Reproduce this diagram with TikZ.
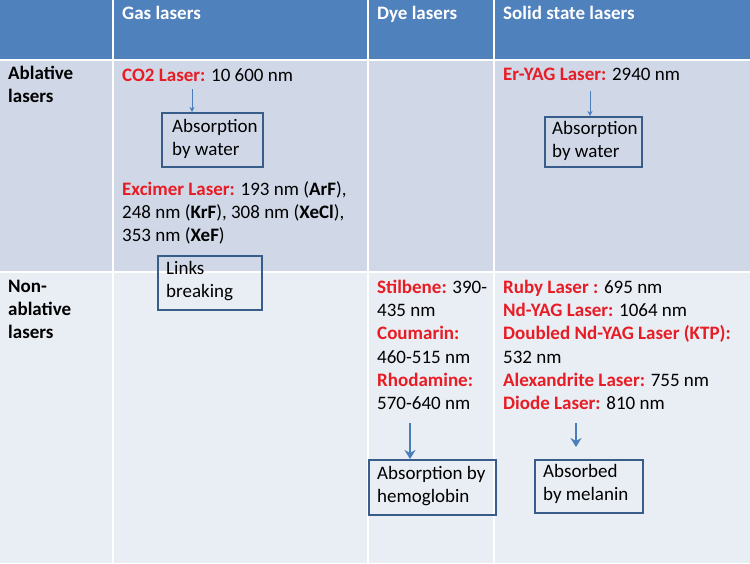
\documentclass[tikz,border=0pt]{standalone}
\usepackage{fontspec}
\setmainfont{Carlito}
\usetikzlibrary{arrows.meta}
\definecolor{headblue}{RGB}{79,129,189}
\definecolor{rowone}{RGB}{208,216,232}
\definecolor{rowtwo}{RGB}{233,237,244}
\definecolor{boxblue}{RGB}{56,93,138}
\definecolor{arrblue}{RGB}{74,126,187}
\definecolor{lasred}{RGB}{232,28,36}
\newcommand{\lname}[1]{\textcolor{lasred}{\textbf{#1}}}

\begin{document}
\begin{tikzpicture}[x=1pt,y=-1pt,font=\fontsize{19}{23.2}\selectfont]
\tikzstyle{cell}=[anchor=north west,inner sep=0pt,align=left]
\tikzstyle{head}=[cell,text=white,font=\fontsize{19}{23.2}\selectfont\bfseries]
\tikzstyle{result}=[draw=boxblue,line width=1.6pt,anchor=north west,inner sep=0pt]
\tikzstyle{thin}=[draw=arrblue,-{Stealth[length=5pt,width=5pt]},line width=0.6pt]
\tikzstyle{thick}=[draw=arrblue,-{Stealth[length=9pt,width=11pt]},line width=2.6pt]

% table background
\useasboundingbox (0,0) rectangle (750,563);
\fill[headblue] (0,0) rectangle (750,60);
\fill[rowone] (0,60) rectangle (750,272);
\fill[rowtwo] (0,272) rectangle (750,563);
\draw[white,line width=2pt] (0,60) -- (750,60);
\draw[white,line width=2pt] (0,272) -- (750,272);
\foreach \x in {113,368,494}
  \draw[white,line width=2.5pt] (\x,0) -- (\x,563);

% headers
\node[head] (hgas) at (122,6) {Gas lasers};
\node[head] (hdye) at (377,6) {Dye lasers};
\node[head] (hsol) at (503,6) {Solid state lasers};
\node[head,text=black] (abl) at (8,66) {Ablative\\lasers};
\node[head,text=black] (nonabl) at (8,280) {Non-\\ablative\\lasers};

% gas lasers
\node[cell] (co2) at (122,68) {\lname{CO2 Laser:} 10 600 nm};
\node[result,minimum width=101pt,minimum height=54pt] (water1) at (161,112) {};
\node[cell] at (172,119) {Absorption\\by water};
\draw[thin] (192,89) -- (water1.north -| 192,0);
\node[cell] (exc) at (122,181) {\lname{Excimer Laser:} 193 nm (\textbf{ArF}),\\
  248 nm (\textbf{KrF}), 308 nm (\textbf{XeCl}),\\353 nm (\textbf{XeF})};
\node[result,minimum width=104pt,minimum height=54pt] (links) at (157,255) {};
\node[cell] at (166,261) {Links\\breaking};

% dye lasers
\node[cell] (dye) at (377,280) {\lname{Stilbene:} 390-\\435 nm\\\lname{Coumarin:}\\
  460-515 nm\\\lname{Rhodamine:}\\570-640 nm};
\node[result,minimum width=127pt,minimum height=55pt] (hemo) at (368,459) {};
\node[cell] at (377,466) {Absorption by\\hemoglobin};
\draw[thick] (410,423) -- (hemo.north -| 410,0);

% solid state lasers
\node[cell] (eryag) at (503,68) {\lname{Er-YAG Laser:} 2940 nm};
\node[result,minimum width=97pt,minimum height=50pt] (water2) at (544,116) {};
\node[cell] at (552,121) {Absorption\\by water};
\draw[thin] (590,91) -- (water2.north -| 590,0);
\node[cell] (solid) at (503,280) {\lname{Ruby Laser :} 695 nm\\\lname{Nd-YAG Laser:} 1064 nm\\
  \lname{Doubled Nd-YAG Laser (KTP):}\\532 nm\\\lname{Alexandrite Laser:} 755 nm\\
  \lname{Diode Laser:} 810 nm};
\node[result,minimum width=108pt,minimum height=53pt] (melanin) at (534,459) {};
\node[cell] at (543,464) {Absorbed\\by melanin};
\draw[thick] (576,423) -- (576,447);
\end{tikzpicture}
\end{document}
